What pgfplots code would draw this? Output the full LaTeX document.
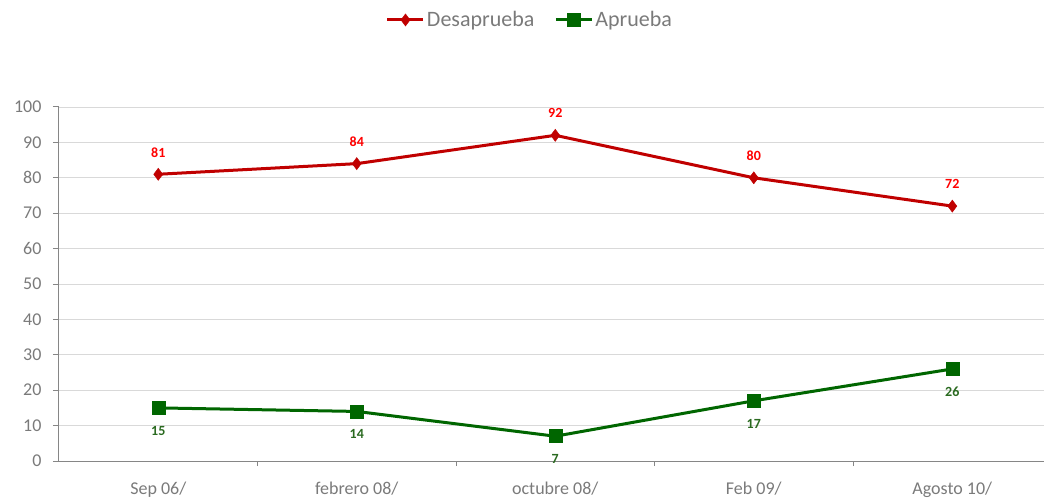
\documentclass[border=0pt]{standalone}
\usepackage{fontspec}
\setmainfont{Carlito}
\usepackage{pgfplots}
\pgfplotsset{compat=1.18}
\definecolor{redline}{HTML}{C00000}
\definecolor{greenline}{HTML}{006600}
\definecolor{greenlab}{HTML}{2A6A20}
\definecolor{ticktext}{HTML}{7A7A7A}
\definecolor{axisgray}{HTML}{868686}
\definecolor{gridgray}{HTML}{D9D9D9}
\begin{document}
\begin{tikzpicture}
\path[use as bounding box] (-59pt,-40pt) rectangle (985pt,461pt);
\begin{axis}[
  at={(0,0)}, anchor=south west,
  scale only axis,
  width=985pt, height=354pt,
  xmin=-0.5, xmax=4.462,
  ymin=0, ymax=100,
  clip=false,
  /pgf/number format/assume math mode=true,
  axis x line*=bottom, axis y line*=left,
  axis line style={draw=axisgray, line width=1pt, -},
  ytick={0,10,...,100},
  ymajorgrids,
  grid style={draw=gridgray, line width=0.8pt},
  y tick style={draw=axisgray, line width=1pt},
  tick align=outside,
  major tick length=6pt,
  xtick={0,1,2,3,4},
  xticklabels={Sep 06/, febrero 08/, octubre 08/, Feb 09/, Agosto 10/},
  x tick style={draw=none},
  extra x ticks={0.5,1.5,2.5,3.5},
  extra x tick labels={},
  extra x tick style={x tick style={draw=axisgray, line width=1pt}, major tick length=5pt, grid=none},
  ticklabel style={font=\fontsize{18}{20}\selectfont, text=ticktext},
  yticklabel style={xshift=-8pt},
  xticklabel style={yshift=-11pt},
  legend style={at={(471pt,441pt)}, anchor=center, draw=none, fill=none,
    legend columns=2, font=\fontsize{22}{24}\selectfont, text=ticktext,
    /tikz/every even column/.append style={column sep=18pt}},
  legend cell align=left,
  legend image code/.code={
    \draw[#1, mark repeat=2, mark phase=2] plot coordinates {(0pt,0pt) (18pt,0pt) (36pt,0pt)};
  },
]
\addplot[redline, line width=3pt, mark=diamond*, mark size=6pt,
  mark options={line width=0.5pt, fill=redline},
  nodes near coords,
  every node near coord/.append style={anchor=center, yshift=22pt, text=red,
    font=\fontsize{14}{16}\selectfont\bfseries}]
  coordinates {(0,81) (1,84) (2,92) (3,80) (4,72)};
\addlegendentry{Desaprueba}
\addplot[greenline, line width=3pt, mark=square*, mark size=6.5pt,
  mark options={line width=0.5pt, fill=greenline},
  nodes near coords,
  every node near coord/.append style={anchor=center, yshift=-23pt, text=greenlab,
    font=\fontsize{14}{16}\selectfont\bfseries}]
  coordinates {(0,15) (1,14) (2,7) (3,17) (4,26)};
\addlegendentry{Aprueba}
\end{axis}
\end{tikzpicture}
\end{document}
